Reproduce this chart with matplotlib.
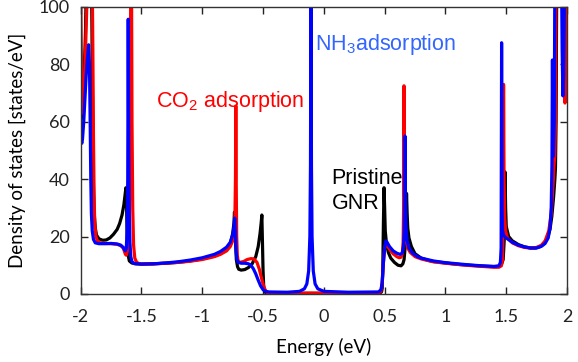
import numpy as np
import matplotlib.pyplot as plt

plt.rcParams['mathtext.default'] = 'regular'

# Pristine GNR (black)
pristine_e = [-2.0, -1.99, -1.98, -1.97, -1.96, -1.955, -1.91, -1.905, -1.90, -1.895, -1.89, -1.88,
              -1.87, -1.85, -1.82, -1.79, -1.76, -1.73, -1.70, -1.68, -1.66, -1.645, -1.635, -1.628,
              -1.622, -1.618, -1.612, -1.60, -1.58, -1.55, -1.5, -1.4, -1.3, -1.2, -1.1, -1.0, -0.9,
              -0.85, -0.80, -0.77, -0.75, -0.74, -0.735, -0.728, -0.72, -0.71, -0.70, -0.68, -0.65,
              -0.62, -0.59, -0.56, -0.54, -0.525, -0.515, -0.51, -0.505, -0.50, -0.495, -0.49, -0.48,
              -0.46, 0.46, 0.475, 0.48, 0.485, 0.49, 0.495, 0.50, 0.505, 0.515, 0.53, 0.55, 0.58,
              0.61, 0.635, 0.65, 0.66, 0.668, 0.675, 0.68, 0.685, 0.69, 0.70, 0.72, 0.75, 0.80,
              0.85, 0.9, 1.0, 1.1, 1.2, 1.3, 1.4, 1.44, 1.46, 1.475, 1.485, 1.49, 1.495, 1.50,
              1.52, 1.55, 1.6, 1.65, 1.70, 1.74, 1.78, 1.81, 1.84, 1.86, 1.875, 1.89, 1.90, 1.905,
              1.91, 1.915, 2.0]
pristine_dos = [60, 62, 68, 78, 92, 105, 105, 80, 55, 38, 29, 23,
                20.5, 19.2, 18.7, 18.8, 19.5, 20.8, 22.5, 24.5, 27.5, 31, 34.5, 37,
                30, 20, 14, 11.5, 10.8, 10.5, 10.4, 10.5, 10.7, 11.0, 11.5, 12.2, 13.2,
                14.2, 15.5, 17.5, 21, 24.5, 28.5, 20, 12, 9.5, 8.6, 8.3, 8.5,
                9.2, 10.5, 13, 16.5, 21, 25, 27.5, 18, 8, 3, 1.2, 0.5,
                0.2, 0.2, 0.8, 2, 10, 25, 37, 30, 22, 17.5, 14.5, 12.5, 11,
                10, 9.8, 10.5, 12, 16, 24, 35, 28, 23, 19.5, 16.5, 14, 12.5,
                11.8, 11.3, 10.8, 10.3, 10, 9.7, 9.5, 9.6, 10.2, 12, 20, 42.5, 30, 23.5,
                20, 18.5, 17.2, 16.4, 16, 16, 16.5, 17.5, 19.5, 22.5, 27, 34, 40, 44,
                60, 105, 105]

# CO2 adsorption (red)
co2_e = [-2.0, -1.995, -1.99, -1.985, -1.98, -1.97, -1.96, -1.95, -1.945, -1.905, -1.90, -1.895,
         -1.89, -1.885, -1.875, -1.86, -1.84, -1.80, -1.75, -1.70, -1.67, -1.65, -1.64, -1.632,
         -1.625, -1.615, -1.605, -1.598, -1.592, -1.588, -1.582, -1.578, -1.572, -1.565, -1.555,
         -1.54, -1.52, -1.5, -1.4, -1.3, -1.2, -1.1, -1.0, -0.9, -0.85, -0.80, -0.77, -0.75,
         -0.74, -0.732, -0.727, -0.724, -0.721, -0.717, -0.712, -0.705, -0.69, -0.66, -0.63,
         -0.60, -0.575, -0.55, -0.53, -0.51, -0.49, -0.47, -0.45, 0.45, 0.47, 0.48, 0.49, 0.50,
         0.51, 0.52, 0.54, 0.57, 0.60, 0.62, 0.635, 0.645, 0.652, 0.656, 0.659, 0.662, 0.667,
         0.675, 0.69, 0.71, 0.75, 0.8, 0.9, 1.0, 1.1, 1.2, 1.3, 1.4, 1.44, 1.46, 1.47, 1.475,
         1.478, 1.482, 1.487, 1.495, 1.51, 1.55, 1.6, 1.65, 1.70, 1.75, 1.79, 1.82, 1.85, 1.87,
         1.885, 1.895, 1.90, 1.905, 1.91, 1.975, 1.978, 1.983, 1.988, 1.995, 2.0]
co2_dos = [105, 85, 68, 63, 64, 72, 85, 100, 110, 110, 85, 55,
           35, 25, 20, 18.3, 17.8, 17.6, 17.5, 17.3, 16.8, 16, 14.8, 13.8,
           13.5, 15, 20, 35, 70, 110, 110, 60, 30, 17, 12.5,
           11, 10.6, 10.4, 10.5, 10.7, 11, 11.4, 12, 13, 13.8, 15, 16.5, 18.5,
           20.5, 25, 40, 65.5, 40, 20, 13.5, 11.5, 11, 11.3, 12,
           12.3, 12.2, 11, 8.5, 5, 2, 0.6, 0.3, 0.3, 1, 4, 11, 16,
           17.5, 17, 15.5, 14, 13, 12.6, 12.8, 14, 18, 30, 72.5, 40, 25,
           19, 16, 14.5, 13, 12.2, 11.2, 10.7, 10.3, 9.9, 9.6, 9.3, 9.3, 9.8, 12, 25,
           73, 40, 27, 22, 19.5, 17.8, 16.8, 16.2, 16, 16.2, 17, 18.5, 22, 28,
           38, 46, 48, 60, 110, 110, 80, 66.5, 70, 90, 110]

# NH3 adsorption (blue)
nh3_e = [-2.0, -1.995, -1.99, -1.985, -1.975, -1.965, -1.955, -1.945, -1.935, -1.928, -1.922,
         -1.917, -1.912, -1.905, -1.895, -1.88, -1.85, -1.80, -1.75, -1.70, -1.67, -1.65, -1.64,
         -1.632, -1.625, -1.618, -1.613, -1.609, -1.605, -1.60, -1.595, -1.588, -1.578, -1.56,
         -1.5, -1.4, -1.3, -1.2, -1.1, -1.0, -0.9, -0.85, -0.80, -0.77, -0.75, -0.74, -0.733,
         -0.728, -0.722, -0.715, -0.705, -0.68, -0.65, -0.62, -0.60, -0.58, -0.56, -0.54, -0.52,
         -0.50, -0.48, -0.45, -0.30, -0.20, -0.16, -0.14, -0.125, -0.115, -0.110, -0.106, -0.102,
         -0.097, -0.087, -0.072, -0.05, 0.0, 0.2, 0.45, 0.47, 0.48, 0.49, 0.50, 0.51, 0.52, 0.54,
         0.57, 0.60, 0.625, 0.645, 0.655, 0.661, 0.665, 0.667, 0.670, 0.675, 0.685, 0.70, 0.73,
         0.77, 0.8, 0.9, 1.0, 1.1, 1.2, 1.3, 1.4, 1.44, 1.452, 1.458, 1.462, 1.466, 1.47, 1.48,
         1.5, 1.55, 1.6, 1.65, 1.70, 1.75, 1.79, 1.82, 1.845, 1.86, 1.87, 1.876, 1.88, 1.884,
         1.888, 1.895, 1.90, 1.955, 1.96, 1.966, 1.972, 1.98, 2.0]
nh3_dos = [55, 53, 52.5, 54, 60, 68, 76, 82, 86.8, 80, 60,
           40, 28, 22, 19, 17.8, 17.5, 17.5, 17.6, 17.4, 17, 16.2, 15.4,
           15, 16, 22, 40, 95.7, 50, 28, 18, 13, 11.2, 10.6,
           10.4, 10.5, 10.8, 11.2, 11.8, 12.6, 13.8, 14.8, 16.3, 18, 20.5, 23, 26.4,
           22, 15, 12, 11, 10.7, 10.7, 10.5, 10, 8.8, 7, 4.8, 2.8,
           1.5, 0.9, 0.7, 0.6, 0.9, 1.8, 3.5, 8, 20, 45, 110, 45,
           20, 8, 3.5, 1.8, 0.9, 0.6, 0.7, 1.5, 4, 11, 16, 18.5, 18, 16.5,
           15, 14.2, 13.8, 14.2, 16.5, 22, 35, 55, 35, 24, 18.5, 16, 14.2,
           13, 12.5, 11.5, 10.9, 10.5, 10.1, 9.8, 9.6, 9.8, 11, 16, 87.5, 30, 22, 20.3,
           19.5, 18, 17, 16.4, 16, 16, 16.6, 17.6, 19.5, 23, 30, 45, 81.5, 50,
           48, 60, 110, 110, 85, 69, 75, 110, 110]

x_ticks = [-2, -1.5, -1, -0.5, 0, 0.5, 1, 1.5, 2]
x_ticklabels = ['-2', '-1.5', '-1', '-0.5', '0', '0.5', '1', '1.5', '2']
y_ticks = [0, 20, 40, 60, 80, 100]

fig = plt.figure(figsize=(5.78, 3.62), dpi=100)
ax = fig.add_axes([0.1396, 0.188, 0.8414, 0.793])

ax.plot(pristine_e, pristine_dos, color='black', lw=2.3)
ax.plot(co2_e, co2_dos, color='#ff0000', lw=2.3)
ax.plot(nh3_e, nh3_dos, color='#0000ff', lw=2.3)

ax.set_xlim(-2, 2)
ax.set_ylim(0, 100)
ax.set_xticks(x_ticks)
ax.set_xticklabels(x_ticklabels)
ax.set_yticks(y_ticks)
ax.tick_params(direction='in', top=True, right=True, length=5, width=1,
               labelsize=13, colors='#222222')
ax.tick_params(axis='x', pad=11)
ax.tick_params(axis='y', pad=8)
for lbl in ax.get_xticklabels() + ax.get_yticklabels():
    lbl.set_fontfamily('Lato')
for sp in ax.spines.values():
    sp.set_linewidth(1.0)
    sp.set_color('#333333')

ax.set_xlabel('Energy (eV)', fontsize=13.5, family='Lato', labelpad=9)
ax.set_ylabel('Density of states [states/eV]', fontsize=13.5, family='Lato', labelpad=9)

# annotations
ax.text(-1.381, 65.0, 'CO$_2$ adsorption', color='#ff0000', fontsize=15.5,
        family='Liberation Sans', va='baseline')
ax.text(-0.073, 85.0, 'NH$_3$adsorption', color='#3366ff', fontsize=15.5,
        family='Liberation Sans', va='baseline')
ax.text(0.064, 38.3, 'Pristine', color='black', fontsize=15.5,
        family='Liberation Sans', va='baseline')
ax.text(0.064, 29.5, 'GNR', color='black', fontsize=15.5,
        family='Liberation Sans', va='baseline')

fig.savefig('out.png', dpi=100)
